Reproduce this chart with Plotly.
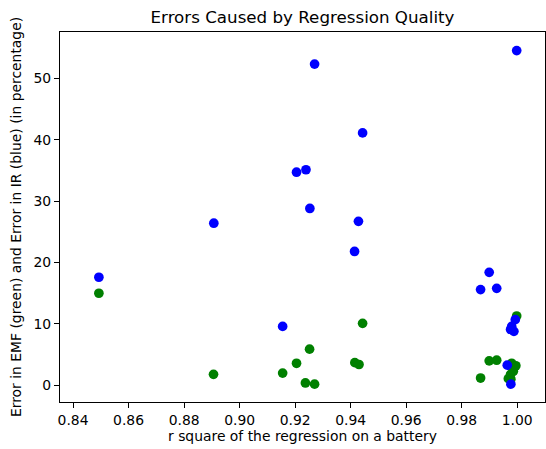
import plotly.graph_objects as go

# r square values and errors
r2_ir = [0.8493, 0.8907, 0.9155, 0.9205, 0.9239, 0.9270, 0.9253, 0.9414, 0.9428, 0.9443,
         0.9868, 0.9899, 0.9926, 0.9998, 0.9993, 0.9980, 0.9976, 0.9988, 0.9964, 0.9977]
err_ir = [17.6, 26.4, 9.6, 34.7, 35.1, 52.3, 28.8, 21.8, 26.7, 41.1,
          15.6, 18.4, 15.8, 54.5, 10.7, 9.6, 9.1, 8.8, 3.3, 0.2]

r2_emf = [0.8493, 0.8906, 0.9155, 0.9205, 0.9237, 0.9270, 0.9252, 0.9415, 0.9430, 0.9443,
          0.9868, 0.9899, 0.9926, 0.9998, 0.9995, 0.9980, 0.9976, 0.9986, 0.9968, 0.9977]
err_emf = [15.0, 1.8, 2.0, 3.6, 0.4, 0.2, 5.9, 3.7, 3.4, 10.1,
           1.2, 4.0, 4.1, 11.3, 3.2, 3.6, 1.8, 2.3, 1.1, 1.0]

x_ticks = [0.84, 0.86, 0.88, 0.90, 0.92, 0.94, 0.96, 0.98, 1.00]
y_ticks = [0, 10, 20, 30, 40, 50]

FONT = "DejaVu Sans"

fig = go.Figure()
fig.add_trace(go.Scatter(x=r2_emf, y=err_emf, mode="markers",
                         marker=dict(color="rgb(0,128,0)", size=9.7, line=dict(width=0)),
                         showlegend=False))
fig.add_trace(go.Scatter(x=r2_ir, y=err_ir, mode="markers",
                         marker=dict(color="rgb(0,0,255)", size=9.7, line=dict(width=0)),
                         showlegend=False))

axis_common = dict(showline=True, linecolor="black", linewidth=1.1, mirror=True,
                   ticks="outside", ticklen=5, tickwidth=1.1, tickcolor="black",
                   showgrid=False, zeroline=False,
                   tickfont=dict(family=FONT, size=13.9, color="black"))

fig.update_layout(
    width=546, height=449,
    margin=dict(l=60, r=1, t=32, b=47),
    paper_bgcolor="white", plot_bgcolor="white",
    font=dict(family=FONT, color="black"),
    title=dict(text="Errors Caused by Regression Quality", x=0.5, xref="paper",
               xanchor="center", y=1 - 17 / 449, yanchor="middle",
               font=dict(family=FONT, size=16.7, color="black")),
    xaxis=dict(range=[0.8353, 1.0100], tickvals=x_ticks,
               ticktext=[f"{v:.2f}" for v in x_ticks],
               title=dict(text="r square of the regression on a battery",
                          font=dict(family=FONT, size=13.9, color="black"), standoff=4),
               **axis_common),
    yaxis=dict(range=[-2.70, 57.52], tickvals=y_ticks,
               ticktext=[str(v) for v in y_ticks],
               title=dict(text="Error in EMF (green) and Error in IR (blue) (in percentage)",
                          font=dict(family=FONT, size=13.9, color="black"), standoff=8),
               **axis_common),
)

fig.write_html("out.html")
